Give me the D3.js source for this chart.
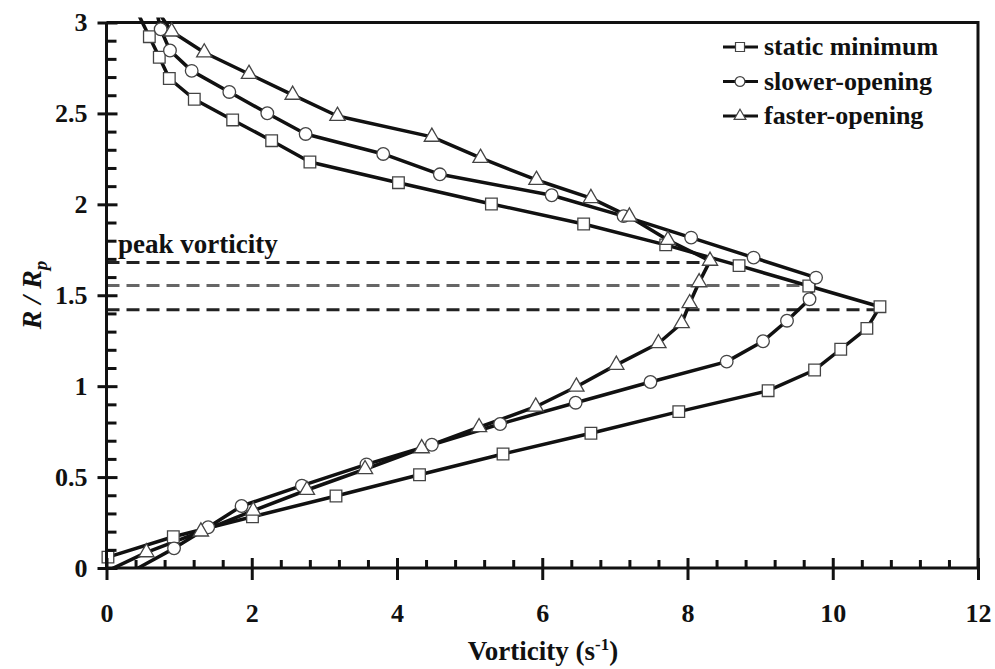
<!DOCTYPE html>
<html>
<head>
<meta charset="utf-8">
<script src="https://cdn.jsdelivr.net/npm/d3@7"></script>
<style>
  body { margin: 0; background: #fff; }
  svg { display: block; }
  .tick text { font-family: "Liberation Serif", serif; font-weight: bold; }
</style>
</head>
<body>
<svg id="chart" width="995" height="669"></svg>
<script>
// series values: [vorticity (1/s), R/Rp]
var staticMin = [
  [0.45, 3.036], [0.59, 2.922], [0.727, 2.809], [0.865, 2.692], [1.209, 2.578], [1.737, 2.464],
  [2.274, 2.350], [2.801, 2.233], [4.02, 2.119], [5.30, 2.002], [6.57, 1.892], [7.70, 1.777],
  [8.71, 1.663], [9.67, 1.551], [10.65, 1.437], [10.47, 1.318], [10.11, 1.203], [9.75, 1.089],
  [9.11, 0.975], [7.88, 0.860], [6.67, 0.741], [5.46, 0.627], [4.31, 0.513], [3.16, 0.396],
  [2.01, 0.282], [0.92, 0.172], [0.02, 0.06]
];
var slowerOpening = [
  [0.68, 3.078], [0.746, 2.963], [0.874, 2.846], [1.173, 2.734], [1.691, 2.618], [2.214, 2.501],
  [2.742, 2.387], [3.81, 2.277], [4.59, 2.165], [6.13, 2.05], [7.12, 1.935], [8.05, 1.817],
  [8.91, 1.707], [9.77, 1.597], [9.68, 1.478], [9.37, 1.360], [9.04, 1.247], [8.54, 1.135],
  [7.49, 1.023], [6.46, 0.909], [5.42, 0.792], [4.48, 0.678], [3.58, 0.570], [2.69, 0.453],
  [1.86, 0.341], [1.40, 0.224], [0.93, 0.108], [0.40, -0.008]
];
var fasterOpening = [
  [0.70, 3.065], [0.897, 2.950], [1.346, 2.835], [1.962, 2.717], [2.563, 2.602], [3.18, 2.486],
  [4.48, 2.371], [5.15, 2.255], [5.92, 2.134], [6.67, 2.034], [7.20, 1.932], [7.73, 1.804],
  [8.31, 1.689], [8.16, 1.571], [8.03, 1.456], [7.92, 1.346], [7.60, 1.236], [7.02, 1.117],
  [6.47, 0.997], [5.91, 0.887], [5.13, 0.774], [4.34, 0.658], [3.56, 0.543], [2.76, 0.429],
  [2.02, 0.315], [1.30, 0.200], [0.55, 0.086], [-0.05, -0.028]
];
var seriesNames = ["static minimum", "slower-opening", "faster-opening"];
var seriesShapes = ["square", "circle", "triangle"];

// peak vorticity guide lines: R/Rp level and where each dashed line stops
var peakLevels = [1.68, 1.553, 1.42];
var peakEnds = [8.31, 9.67, 10.65];
var peakColors = ["#222", "#666", "#222"];

var xMajor = [0, 2, 4, 6, 8, 10, 12];
var yMajor = [0, 0.5, 1, 1.5, 2, 2.5, 3];
var yMajorLabels = ["0", "0.5", "1", "1.5", "2", "2.5", "3"];

var svg = d3.select("#chart");
var plotL = 106.5, plotR = 978, plotT = 22.5, plotB = 568;
var serif = "Liberation Serif, serif";

var x = d3.scaleLinear().domain([0, 12]).range([plotL, plotR]);
var y = d3.scaleLinear().domain([0, 3]).range([plotB, plotT]);

var xMinor = d3.range(0, 12.001, 0.4).filter(v => Math.abs(v / 2 - Math.round(v / 2)) > 0.01);
var yMinor = d3.range(0, 3.001, 0.1).filter(v => Math.abs(v * 2 - Math.round(v * 2)) > 0.01);

// clip for the curves: stops at the axes, lets them poke a bit above the frame
svg.append("clipPath").attr("id", "plotclip")
  .append("rect")
  .attr("x", plotL).attr("y", plotT - 5)
  .attr("width", plotR - plotL).attr("height", plotB - plotT + 5);

// frame top & right
svg.append("path")
  .attr("d", `M${plotL},${plotT}H${plotR}V${plotB}`)
  .attr("fill", "none").attr("stroke", "#111").attr("stroke-width", 3);

// dashed guides
svg.append("g").selectAll("line")
  .data(peakLevels)
  .enter().append("line")
  .attr("x1", plotL)
  .attr("x2", (d, i) => x(peakEnds[i]))
  .attr("y1", d => y(d)).attr("y2", d => y(d))
  .attr("stroke", (d, i) => peakColors[i])
  .attr("stroke-width", 3)
  .attr("stroke-dasharray", "13,7");

svg.append("text")
  .attr("x", 118).attr("y", 253)
  .attr("font-family", serif)
  .attr("font-weight", "bold")
  .attr("font-size", 27)
  .attr("fill", "#111")
  .text("peak vorticity");

// curves
var line = d3.line().x(d => x(d[0])).y(d => y(d[1]));
var allSeries = [staticMin, slowerOpening, fasterOpening];

svg.append("g").attr("clip-path", "url(#plotclip)")
  .selectAll("path")
  .data(allSeries)
  .enter().append("path")
  .attr("d", line)
  .attr("fill", "none")
  .attr("stroke", "#111")
  .attr("stroke-width", 3.5)
  .attr("stroke-linejoin", "round");

var symSize = { square: 135, circle: 125, triangle: 100 };
var symType = { square: d3.symbolSquare, circle: d3.symbolCircle, triangle: d3.symbolTriangle };

allSeries.forEach(function(data, i) {
  var shape = seriesShapes[i];
  svg.append("g").selectAll("path")
    .data(data.filter(d => d[0] > 0.01 && d[1] > 0.01 && d[1] <= 3))
    .enter().append("path")
    .attr("transform", d => `translate(${x(d[0])},${y(d[1])})`)
    .attr("d", d3.symbol().type(symType[shape]).size(symSize[shape]))
    .attr("fill", "#fff")
    .attr("stroke", "#444")
    .attr("stroke-width", 1.3);
});

// x axis
var xMin = svg.append("g").attr("transform", `translate(0,${plotB})`)
  .call(d3.axisBottom(x).tickValues(xMinor).tickSize(-8).tickFormat(""));
xMin.select(".domain").remove();
var xMaj = svg.append("g").attr("transform", `translate(0,${plotB})`)
  .call(d3.axisBottom(x).tickValues(xMajor).tickSize(12).tickPadding(24).tickFormat(d3.format("d")));
xMaj.select(".domain").remove();
xMaj.selectAll(".tick line").attr("y1", -10);
xMaj.selectAll(".tick text").attr("font-size", 26).attr("fill", "#111");

// y axis
var yMin = svg.append("g").attr("transform", `translate(${plotL},0)`)
  .call(d3.axisLeft(y).tickValues(yMinor).tickSize(-10).tickFormat(""));
yMin.select(".domain").remove();
var yMaj = svg.append("g").attr("transform", `translate(${plotL},0)`)
  .call(d3.axisLeft(y).tickValues(yMajor).tickSize(9).tickPadding(10)
    .tickFormat((d, i) => yMajorLabels[i]));
yMaj.select(".domain").remove();
yMaj.selectAll(".tick line").attr("x1", 11);
yMaj.selectAll(".tick text").attr("font-size", 26).attr("fill", "#111");
svg.selectAll("g .tick line").attr("stroke", "#111").attr("stroke-width", 3);

svg.append("line")
  .attr("x1", plotL).attr("x2", plotR).attr("y1", plotB).attr("y2", plotB)
  .attr("stroke", "#111").attr("stroke-width", 3);
svg.append("line")
  .attr("x1", plotL).attr("x2", plotL).attr("y1", plotT).attr("y2", plotB)
  .attr("stroke", "#111").attr("stroke-width", 3);

// axis titles
var xt = svg.append("text")
  .attr("x", 543).attr("y", 660)
  .attr("text-anchor", "middle")
  .attr("font-family", serif)
  .attr("font-weight", "bold")
  .attr("font-size", 27)
  .attr("fill", "#111");
xt.append("tspan").text("Vorticity (s");
xt.append("tspan").attr("dy", -10).attr("font-size", 17).text("-1");
xt.append("tspan").attr("dy", 10).text(")");

var yt = svg.append("text")
  .attr("transform", "translate(41,295) rotate(-90)")
  .attr("text-anchor", "middle")
  .attr("font-family", serif)
  .attr("font-weight", "bold")
  .attr("font-style", "italic")
  .attr("font-size", 28)
  .attr("fill", "#111");
yt.append("tspan").text("R / R");
yt.append("tspan").attr("dy", 6).attr("font-size", 19).text("p");

// legend
var legend = svg.append("g").attr("transform", "translate(723,0)");
seriesNames.forEach(function(name, i) {
  var ly = 47 + i * 34.5;
  var shape = seriesShapes[i];
  legend.append("line")
    .attr("x1", 0).attr("x2", 35).attr("y1", ly).attr("y2", ly)
    .attr("stroke", "#111").attr("stroke-width", 3);
  legend.append("path")
    .attr("transform", `translate(17,${ly})`)
    .attr("d", d3.symbol().type(symType[shape]).size(symSize[shape] * 0.6))
    .attr("fill", "#fff").attr("stroke", "#444").attr("stroke-width", 1.2);
  legend.append("text")
    .attr("x", 41).attr("y", ly + 8)
    .attr("font-family", serif)
    .attr("font-weight", "bold")
    .attr("font-size", 26)
    .attr("fill", "#111")
    .text(name);
});
</script>
</body>
</html>
